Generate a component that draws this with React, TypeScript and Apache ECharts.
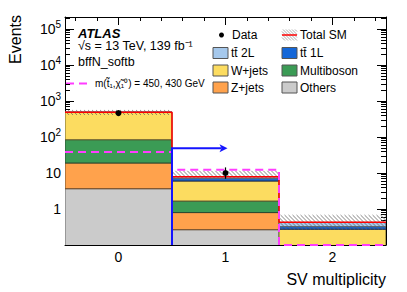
import React, { useEffect, useRef } from 'react';
import * as echarts from 'echarts';

// ---------- data ----------
const binCenters = [0, 1, 2];
const binLabels = ['0', '1', '2'];
const others = [3.66, 0.266, 0.005];
const zjets = [15.3, 0.53, 0.01];
const multiboson = [65, 0.87, 0.01];
const wjets = [400, 4.33, 0.25];
const ttbar1L = [0.4, 1.08, 0.05];
const ttbar2L = [0.3, 0.81, 0.1];
const uncLow = [410, 6.6, 0.27];
const uncHigh = [560, 11.5, 0.68];
const dataVals: (number | null)[] = [460, 10, null];
const dataErrUp = [21, 4.3, 0];
const dataErrDown = [21, 3.1, 0];
const signal = [38.3, 12.3, 0.1];
const cutPosition = 0.5;
const cutArrowEnd = 1.0;
const cutArrowLevel = 49;
const yMajorTicks = [1, 10, 100, 1000, 10000, 100000];
const xMinorTicks = [-0.4, -0.2, 0.2, 0.4, 0.6, 0.8, 1.2, 1.4, 1.6, 1.8, 2.2, 2.4];

const Y_MIN = 0.1;
const Y_MAX = 2.15e5;
const X_MIN = -0.5;
const X_MAX = 2.5;
const FONT = '"Liberation Sans", Arial, Helvetica, sans-serif';

const yMinorTicks: number[] = [];
for (let e = -1; e <= 5; e++) {
  for (let k = 2; k <= 9; k++) {
    const v = k * Math.pow(10, e);
    if (v < Y_MAX) yMinorTicks.push(v);
  }
}

const components = [
  { name: 'Others', values: others, color: '#cbcbcb', line: '#666666' },
  { name: 'Z+jets', values: zjets, color: '#ffa24c', line: '#6b4a2a' },
  { name: 'Multiboson', values: multiboson, color: '#3b9b55', line: '#2a4a30' },
  { name: 'W+jets', values: wjets, color: '#fcdc60', line: '#6b6030' },
  { name: 'tt 1L', values: ttbar1L, color: '#1467d8', line: '#1a2a50' },
  { name: 'tt 2L', values: ttbar2L, color: '#a5c8ec', line: '#556677' },
];

function hatchLines(x0: number, y0: number, x1: number, y1: number, step: number, style: any) {
  const out: any[] = [];
  for (let c = x0 - y1; c <= x1 - y0; c += step) {
    const xa = Math.max(x0, y0 + c);
    const xb = Math.min(x1, y1 + c);
    if (xb > xa) out.push({ type: 'line', shape: { x1: xa, y1: xa - c, x2: xb, y2: xb - c }, style });
  }
  return out;
}

function stepPoints(vals: number[]) {
  const pts: number[][] = [];
  vals.forEach((v, i) => {
    pts.push([binCenters[i] - 0.5, v]);
    pts.push([binCenters[i] + 0.5, v]);
  });
  return pts;
}

export default function App() {
  const ref = useRef<HTMLDivElement>(null);
  useEffect(() => {
    if (!ref.current) return;
    const chart = echarts.init(ref.current, null, { renderer: 'svg' });

    const cum = binCenters.map(() => 0);
    const stackSeries: any[] = components.map((comp) => {
      const d = binCenters.map((b, i) => {
        const lo = cum[i];
        const hi = lo + comp.values[i];
        cum[i] = hi;
        return [b, lo, hi];
      });
      return {
        type: 'custom',
        name: comp.name,
        xAxisIndex: 0,
        yAxisIndex: 0,
        clip: true,
        z: 2,
        data: d,
        renderItem: (params: any, api: any) => {
          const x = api.value(0);
          const lo = Math.max(api.value(1), Y_MIN * 0.5);
          const hi = api.value(2);
          if (hi <= Y_MIN) return null;
          const p0 = api.coord([x - 0.5, hi]);
          const p1 = api.coord([x + 0.5, lo]);
          return {
            type: 'rect',
            shape: { x: p0[0], y: p0[1], width: p1[0] - p0[0], height: p1[1] - p0[1] },
            style: { fill: comp.color, stroke: comp.line, lineWidth: 1 },
          };
        },
      };
    });
    const totals = cum.slice();

    const hatchSeries = {
      type: 'custom',
      xAxisIndex: 0,
      yAxisIndex: 0,
      clip: true,
      z: 3,
      data: binCenters.map((b, i) => [b, uncLow[i], uncHigh[i]]),
      renderItem: (params: any, api: any) => {
        const x = api.value(0);
        const p0 = api.coord([x - 0.5, api.value(2)]);
        const p1 = api.coord([x + 0.5, Math.max(api.value(1), Y_MIN)]);
        return {
          type: 'group',
          children: hatchLines(p0[0], p0[1], p1[0], p1[1], 4, { stroke: '#666666', lineWidth: 0.8 }),
        };
      },
    };

    const totalLine = {
      type: 'line',
      xAxisIndex: 0,
      yAxisIndex: 0,
      z: 4,
      symbol: 'none',
      clip: false,
      data: stepPoints(totals),
      lineStyle: { color: '#ff0000', width: 1.5 },
    };

    const signalLine = {
      type: 'line',
      xAxisIndex: 0,
      yAxisIndex: 0,
      z: 5,
      symbol: 'none',
      clip: false,
      data: stepPoints(signal),
      lineStyle: { color: '#ff3cff', width: 2, type: [8, 5] },
    };

    const cutArrow = {
      type: 'custom',
      xAxisIndex: 0,
      yAxisIndex: 0,
      z: 6,
      clip: false,
      data: [[cutPosition, Y_MIN, cutArrowLevel, cutArrowEnd]],
      renderItem: (params: any, api: any) => {
        const pb = api.coord([api.value(0), api.value(1)]);
        const pt = api.coord([api.value(0), api.value(2)]);
        const pe = api.coord([api.value(3), api.value(2)]);
        return {
          type: 'group',
          children: [
            {
              type: 'polyline',
              shape: { points: [pb, pt, [pe[0] - 4, pe[1]]] },
              style: { stroke: '#1414ff', lineWidth: 2, fill: null },
            },
            {
              type: 'polygon',
              shape: { points: [[pe[0] + 2, pe[1]], [pe[0] - 6, pe[1] - 4], [pe[0] - 4, pe[1]], [pe[0] - 6, pe[1] + 4]] },
              style: { fill: '#1414ff' },
            },
          ],
        };
      },
    };

    const dataSeries = {
      type: 'custom',
      xAxisIndex: 0,
      yAxisIndex: 0,
      z: 7,
      clip: false,
      data: binCenters
        .map((b, i) => (dataVals[i] == null ? null : [b, dataVals[i], (dataVals[i] as number) - dataErrDown[i], (dataVals[i] as number) + dataErrUp[i]]))
        .filter((d) => d !== null),
      renderItem: (params: any, api: any) => {
        const p = api.coord([api.value(0), api.value(1)]);
        const pl = api.coord([api.value(0), api.value(2)]);
        const ph = api.coord([api.value(0), api.value(3)]);
        return {
          type: 'group',
          children: [
            { type: 'line', shape: { x1: p[0], y1: pl[1], x2: p[0], y2: ph[1] }, style: { stroke: '#000', lineWidth: 1.2 } },
            { type: 'circle', shape: { cx: p[0], cy: p[1], r: 3 }, style: { fill: '#000' } },
          ],
        };
      },
    };

    const baseX = { type: 'value', min: X_MIN, max: X_MAX, splitLine: { show: false }, gridIndex: 0 };
    const baseY = { type: 'log', logBase: 10, min: Y_MIN, max: Y_MAX, splitLine: { show: false }, gridIndex: 0 };
    const axisLine = { show: true, onZero: false, lineStyle: { color: '#000', width: 1 } };
    const noLine = { show: false, onZero: false };

    const yLabelFmt = (v: number) => {
      const e = Math.round(Math.log10(v));
      if (e === 0) return '1';
      if (e === 1) return '10';
      return `{b|10}{e|${e}}`;
    };

    const legendRows = [35, 53, 70.5, 87.5];
    const col1Box = 213;
    const col2Box = 282;
    const boxW = 15;
    const boxH = 11;
    const legText = (x: number, y: number, t: string) => ({
      type: 'text',
      x,
      y,
      style: { text: t, font: `12px ${FONT}`, fill: '#000', verticalAlign: 'middle', align: 'left' },
    });
    const legBox = (x: number, y: number, color: string) => ({
      type: 'rect',
      shape: { x, y: y - boxH / 2, width: boxW, height: boxH },
      style: { fill: color, stroke: '#555', lineWidth: 1 },
    });

    const graphic: any[] = [
      {
        type: 'text',
        x: 15,
        y: 15,
        rotation: Math.PI / 2,
        style: { text: 'Events', font: `16px ${FONT}`, fill: '#000', align: 'right', verticalAlign: 'middle' },
      },
      {
        type: 'text',
        x: 386,
        y: 279,
        style: { text: 'SV multiplicity', font: `16px ${FONT}`, fill: '#000', align: 'right', verticalAlign: 'middle' },
      },
      {
        type: 'text',
        x: 78,
        y: 33,
        style: { text: 'ATLAS', font: `italic bold 13px ${FONT}`, fill: '#000', verticalAlign: 'middle' },
      },
      {
        type: 'text',
        x: 78,
        y: 46,
        style: { text: '√s = 13 TeV, 139 fb⁻¹', font: `12.5px ${FONT}`, fill: '#000', verticalAlign: 'middle' },
      },
      {
        type: 'text',
        x: 78,
        y: 62,
        style: { text: 'bffN_softb', font: `12.5px ${FONT}`, fill: '#000', verticalAlign: 'middle' },
      },
      {
        type: 'line',
        shape: { x1: 66, y1: 83.5, x2: 90, y2: 83.5 },
        style: { stroke: '#ff3cff', lineWidth: 2, lineDash: [8, 5] },
      },
      {
        type: 'text',
        x: 95,
        y: 83,
        style: { text: 'm(t̃₁,χ̃₁⁰) = 450, 430 GeV', font: `10px ${FONT}`, fill: '#000', verticalAlign: 'middle' },
      },
      { type: 'circle', shape: { cx: 221.5, cy: legendRows[0], r: 2.5 }, style: { fill: '#000' } },
      legText(232, legendRows[0], 'Data'),
      legBox(col1Box, legendRows[1], '#a5c8ec'),
      legText(231, legendRows[1], 'tt̄ 2L'),
      legBox(col1Box, legendRows[2], '#fcdc60'),
      legText(231, legendRows[2], 'W+jets'),
      legBox(col1Box, legendRows[3], '#ffa24c'),
      legText(231, legendRows[3], 'Z+jets'),
      {
        type: 'group',
        children: hatchLines(col2Box, legendRows[0] - 5.5, col2Box + boxW, legendRows[0] + 5.5, 3, { stroke: '#888', lineWidth: 0.7 }),
      },
      {
        type: 'line',
        shape: { x1: col2Box, y1: legendRows[0], x2: col2Box + boxW, y2: legendRows[0] },
        style: { stroke: '#ff0000', lineWidth: 1.5 },
      },
      legText(300, legendRows[0], 'Total SM'),
      legBox(col2Box, legendRows[1], '#1467d8'),
      legText(300, legendRows[1], 'tt̄ 1L'),
      legBox(col2Box, legendRows[2], '#3b9b55'),
      legText(300, legendRows[2], 'Multiboson'),
      legBox(col2Box, legendRows[3], '#cbcbcb'),
      legText(300, legendRows[3], 'Others'),
    ];

    chart.setOption({
      animation: false,
      backgroundColor: '#ffffff',
      grid: { left: 65, right: 21, top: 17, bottom: 47, containLabel: false },
      xAxis: [
        {
          ...baseX,
          position: 'bottom',
          axisLine,
          axisTick: { show: true, inside: true, length: 8, customValues: binCenters, lineStyle: { color: '#000' } },
          axisLabel: {
            show: true,
            customValues: binCenters,
            formatter: (v: number) => binLabels[binCenters.indexOf(Math.round(v))] ?? '',
            fontSize: 14,
            fontFamily: FONT,
            color: '#000',
            margin: 5,
          },
        },
        {
          ...baseX,
          position: 'bottom',
          axisLine: noLine,
          axisTick: { show: true, inside: true, length: 4, customValues: xMinorTicks, lineStyle: { color: '#000' } },
          axisLabel: { show: false },
        },
        {
          ...baseX,
          position: 'top',
          axisLine,
          axisTick: { show: true, inside: true, length: 8, customValues: binCenters, lineStyle: { color: '#000' } },
          axisLabel: { show: false },
        },
        {
          ...baseX,
          position: 'top',
          axisLine: noLine,
          axisTick: { show: true, inside: true, length: 4, customValues: xMinorTicks, lineStyle: { color: '#000' } },
          axisLabel: { show: false },
        },
      ],
      yAxis: [
        {
          ...baseY,
          position: 'left',
          axisLine,
          axisTick: { show: true, inside: true, length: 9, customValues: yMajorTicks, lineStyle: { color: '#000' } },
          axisLabel: {
            show: true,
            customValues: yMajorTicks,
            formatter: yLabelFmt,
            fontSize: 14,
            fontFamily: FONT,
            color: '#000',
            margin: 4,
            rich: {
              b: { fontSize: 14, fontFamily: FONT, color: '#000' },
              e: { fontSize: 10, fontFamily: FONT, color: '#000', padding: [0, 0, 9, 0] },
            },
          },
        },
        {
          ...baseY,
          position: 'left',
          axisLine: noLine,
          axisTick: { show: true, inside: true, length: 5, customValues: yMinorTicks, lineStyle: { color: '#000' } },
          axisLabel: { show: false },
        },
        {
          ...baseY,
          position: 'right',
          axisLine,
          axisTick: { show: true, inside: true, length: 9, customValues: yMajorTicks, lineStyle: { color: '#000' } },
          axisLabel: { show: false },
        },
        {
          ...baseY,
          position: 'right',
          axisLine: noLine,
          axisTick: { show: true, inside: true, length: 5, customValues: yMinorTicks, lineStyle: { color: '#000' } },
          axisLabel: { show: false },
        },
      ],
      series: [...stackSeries, hatchSeries, totalLine, signalLine, cutArrow, dataSeries],
      graphic,
    });

    return () => chart.dispose();
  }, []);

  return (
    <div
      ref={ref}
      style={{ width: 407, height: 292, position: 'absolute', left: 0, top: 0, background: '#fff' }}
    />
  );
}
